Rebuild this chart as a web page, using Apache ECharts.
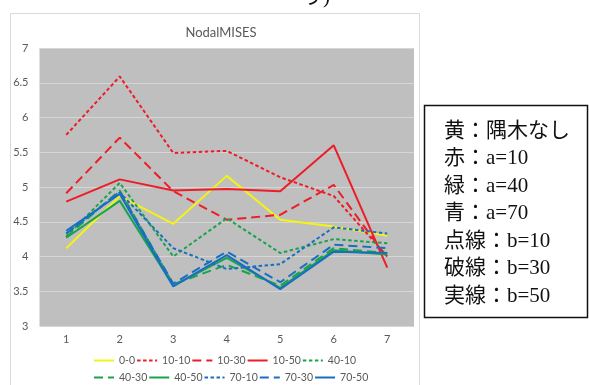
<!DOCTYPE html>
<html>
<head>
<meta charset="utf-8">
<script src="https://cdn.jsdelivr.net/npm/echarts@6/dist/echarts.min.js"></script>
<style>
html,body{margin:0;padding:0;background:#fff;}
#chart{width:589px;height:385px;}
</style>
</head>
<body>
<div id="chart"></div>
<script>
const categories = ['1', '2', '3', '4', '5', '6', '7'];
const seriesNames = ['0-0', '10-10', '10-30', '10-50', '40-10', '40-30', '40-50', '70-10', '70-30', '70-50'];
const s_0_0   = [4.12, 4.87, 4.47, 5.16, 4.53, 4.43, 4.30];
const s_10_10 = [5.75, 6.59, 5.49, 5.52, 5.14, 4.87, 4.00];
const s_10_30 = [4.91, 5.71, 4.94, 4.53, 4.60, 5.03, 3.98];
const s_10_50 = [4.79, 5.11, 4.95, 4.97, 4.94, 5.60, 3.84];
const s_40_10 = [4.29, 5.06, 4.00, 4.55, 4.05, 4.25, 4.19];
const s_40_30 = [4.28, 4.95, 3.60, 3.88, 3.58, 4.12, 4.05];
const s_40_50 = [4.27, 4.80, 3.58, 3.98, 3.55, 4.09, 4.03];
const s_70_10 = [4.33, 4.92, 4.12, 3.82, 3.89, 4.42, 4.33];
const s_70_30 = [4.33, 4.93, 3.61, 4.07, 3.63, 4.17, 4.12];
const s_70_50 = [4.37, 4.90, 3.57, 4.02, 3.53, 4.07, 4.05];
const seriesValues = [s_0_0, s_10_10, s_10_30, s_10_50, s_40_10, s_40_30, s_40_50, s_70_10, s_70_30, s_70_50];
const noteLines = ['黄：隅木なし', '赤：a=10', '緑：a=40', '青：a=70', '点線：b=10', '破線：b=30', '実線：b=50'];

const YELLOW = '#f4f414', RED = '#ee1c25', GREEN = '#17a44a', BLUE = '#1a6ec2';
const colors = [YELLOW, RED, RED, RED, GREEN, GREEN, GREEN, BLUE, BLUE, BLUE];
const DOT = [3.5, 2.5], DASH = [9, 5];
const dashes = ['solid', DOT, DASH, 'solid', DOT, DASH, 'solid', DOT, DASH, 'solid'];

const chart = echarts.init(document.getElementById('chart'), null, {renderer: 'canvas'});
const FONT = 'Lato, "Noto Sans", sans-serif';
const LABEL = '#595959';

const series = seriesNames.map((n, i) => ({
  name: n,
  type: 'line',
  data: seriesValues[i],
  symbol: 'none',
  showSymbol: false,
  color: colors[i],
  lineStyle: {color: colors[i], width: 2, type: dashes[i]},
  itemStyle: {color: colors[i]},
  animation: false,
  z: 2
}));

const noteGraphics = noteLines.map((t, i) => ({
  type: 'text',
  left: 444,
  top: 131.5 + i * 27.5 - 11,
  style: {
    text: t,
    fill: '#111',
    font: '21px "Liberation Serif", "Noto Sans CJK JP", serif'
  },
  z: 10
}));

const legendCommon = {
  left: 93,
  padding: 0,
  itemWidth: 20, itemHeight: 10, itemGap: 1,
  itemStyle: {opacity: 0},
  textStyle: {fontFamily: FONT, fontSize: 10.5, color: LABEL}
};

const option = {
  backgroundColor: '#ffffff',
  animation: false,
  title: {
    text: 'NodalMISES',
    left: 216,
    textAlign: 'center',
    top: 21,
    textStyle: {fontFamily: FONT, fontSize: 13, fontWeight: 'normal', color: LABEL}
  },
  grid: {
    left: 39.5, right: 175, top: 48, bottom: 59,
    show: true, backgroundColor: '#bfbfbf', borderWidth: 0
  },
  legend: [
    Object.assign({data: seriesNames.slice(0, 5), top: 355}, legendCommon),
    Object.assign({data: seriesNames.slice(5), top: 372}, legendCommon)
  ],
  xAxis: {
    type: 'category',
    data: categories,
    boundaryGap: true,
    axisLine: {show: false},
    axisTick: {show: false},
    axisLabel: {fontFamily: FONT, fontSize: 11, color: LABEL, margin: 8},
    splitLine: {show: false}
  },
  yAxis: {
    type: 'value',
    min: 3, max: 7, interval: 0.5,
    axisLine: {show: false},
    axisTick: {show: false},
    axisLabel: {fontFamily: FONT, fontSize: 11, color: LABEL, margin: 11},
    splitLine: {show: true, lineStyle: {color: '#d6d6d6', width: 1}}
  },
  graphic: [
    {
      type: 'rect',
      shape: {x: 10.5, y: 13.5, width: 409, height: 390},
      style: {fill: 'none', stroke: '#d9d9d9', lineWidth: 1},
      z: -1, silent: true
    },
    {
      type: 'text',
      left: 302, top: -13,
      style: {text: 'り)', fill: '#111', font: '21px "Liberation Serif", "Noto Sans CJK JP", serif'},
      z: 10
    },
    {
      type: 'rect',
      shape: {x: 424.5, y: 105.5, width: 163, height: 212},
      style: {fill: '#fff', stroke: '#111', lineWidth: 1.5},
      z: 9
    }
  ].concat(noteGraphics),
  series: series
};
chart.setOption(option);
</script>
</body>
</html>
